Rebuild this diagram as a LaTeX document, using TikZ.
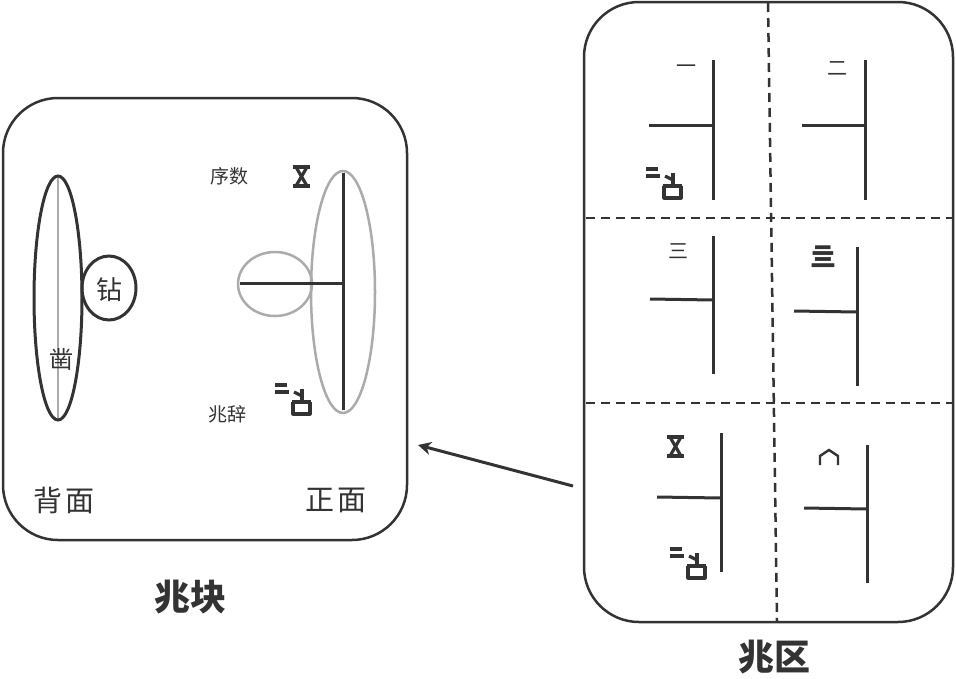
\documentclass[tikz,border=0pt]{standalone}
\usepackage{fontspec}
\setmainfont{Noto Sans CJK SC}
\usetikzlibrary{arrows.meta}
\definecolor{ink}{HTML}{333333}
\definecolor{lgray}{HTML}{ABABAB}
\tikzset{
  box/.style={draw=ink, line width=2.5pt, rounded corners=55pt},
  stem/.style={draw=ink, line width=3pt},
  dashline/.style={draw=ink, line width=2.5pt, dash pattern=on 9pt off 6pt},
  glyphline/.style={draw=ink, line width=3.2pt},
  lbl/.style={text=ink, inner sep=0pt},
  ergao/.pic={
    \draw[glyphline] (0,2) -- (12,2);
    \draw[glyphline] (0,9) -- (14,9);
    \draw[glyphline] (19,9) -- (27,13);
    \draw[glyphline] (27,6) -- (27,19);
    \draw[glyphline] (17,19) -- (36,19);
    \draw[glyphline, line join=round] (18,19) -- (18,31) -- (35,31) -- (35,19);
  },
  wu/.pic={
    \draw[glyphline] (0,0) -- (17,0);
    \draw[glyphline] (0,19) -- (17,19);
    \draw[glyphline] (3,0) -- (14,19);
    \draw[glyphline] (14,0) -- (3,19);
  },
  liu/.pic={
    \draw[glyphline, line width=2.4pt] (0,15) -- (0,6) -- (9,0) -- (18,6) -- (18,15);
  }
}
\begin{document}
\begin{tikzpicture}[x=1pt,y=-1pt]
\useasboundingbox (0,0) rectangle (956,678);

% ---------------- left block (兆块)
\draw[box] (3,98) rectangle (407,540);
% back side
\draw[lgray, line width=1.5pt] (58,177) -- (58,419);
\draw[draw=ink, line width=3pt] (58,298) ellipse [x radius=24, y radius=122];
\draw[draw=ink, line width=3pt] (109,288) ellipse [x radius=27, y radius=32];
\node[lbl, font=\fontsize{26}{26}\selectfont] (zuan) at (109,290) {钻};
\node[lbl, font=\fontsize{24}{24}\selectfont] (zao) at (61,359) {凿};
% front side
\draw[lgray, line width=2.5pt] (343,292) ellipse [x radius=32, y radius=121];
\draw[lgray, line width=2.5pt] (275,284) ellipse [x radius=37, y radius=32];
\draw[stem] (343,173) -- (343,410);
\draw[stem] (240,283) -- (343,283);
\node[lbl, font=\fontsize{19}{19}\selectfont] (xushu) at (229,176) {序数};
\node[lbl, font=\fontsize{19}{19}\selectfont] (zhaoci) at (227,414) {兆辞};
\pic at (293,167) {wu};
\pic at (275,383) {ergao};
\node[lbl, font=\fontsize{29}{29}\selectfont] (beimian) at (64,500) {背\hspace{3pt}面};
\node[lbl, font=\fontsize{29}{29}\selectfont] (zhengmian) at (336,500) {正\hspace{3pt}面};
\node[lbl, font=\fontsize{36}{36}\selectfont\bfseries] (zhaokuai) at (190,597) {兆块};

% ---------------- right block (兆区)
\draw[box] (584,2) rectangle (953,622);
\draw[dashline] (768,3) -- (777,621);
\draw[dashline] (586,218) -- (952,218);
\draw[dashline] (586,403) -- (952,403);

% cell 1
\draw[stem] (713,60) -- (713,200);
\draw[stem] (649,125) -- (713,125);
\node[lbl, font=\fontsize{20}{20}\selectfont] (n1) at (686,69) {一};
\pic at (646,167) {ergao};
% cell 2
\draw[stem] (865,60) -- (865,200);
\draw[stem] (802,125) -- (865,125);
\node[lbl, font=\fontsize{20}{20}\selectfont] (n2) at (837,69) {二};
% cell 3
\draw[stem] (713,236) -- (713,374);
\draw[stem] (650,299) -- (713,300);
\node[lbl, font=\fontsize{20}{20}\selectfont] (n3) at (678,251) {三};
% cell 4
\draw[stem] (857,247) -- (857,386);
\draw[stem] (794,311) -- (857,312);
\node[lbl, font=\fontsize{26}{26}\selectfont\bfseries] (n4) at (823,257) {亖};
% cell 5
\draw[stem] (721,433) -- (721,572);
\draw[stem] (657,497) -- (721,498);
\pic at (667,437) {wu};
\pic at (670,547) {ergao};
% cell 6
\draw[stem] (867,445) -- (867,583);
\draw[stem] (804,508) -- (867,509);
\pic at (820,450) {liu};
\node[lbl, font=\fontsize{36}{36}\selectfont\bfseries] (zhaoqu) at (774,657) {兆区};

% ---------------- arrow
\coordinate (arrS) at (573,486);
\coordinate (arrE) at (418,445);
\draw[ink, line width=3pt, -{Stealth[length=13pt, width=13pt, inset=4pt]}] (arrS) -- (arrE);
\end{tikzpicture}
\end{document}
